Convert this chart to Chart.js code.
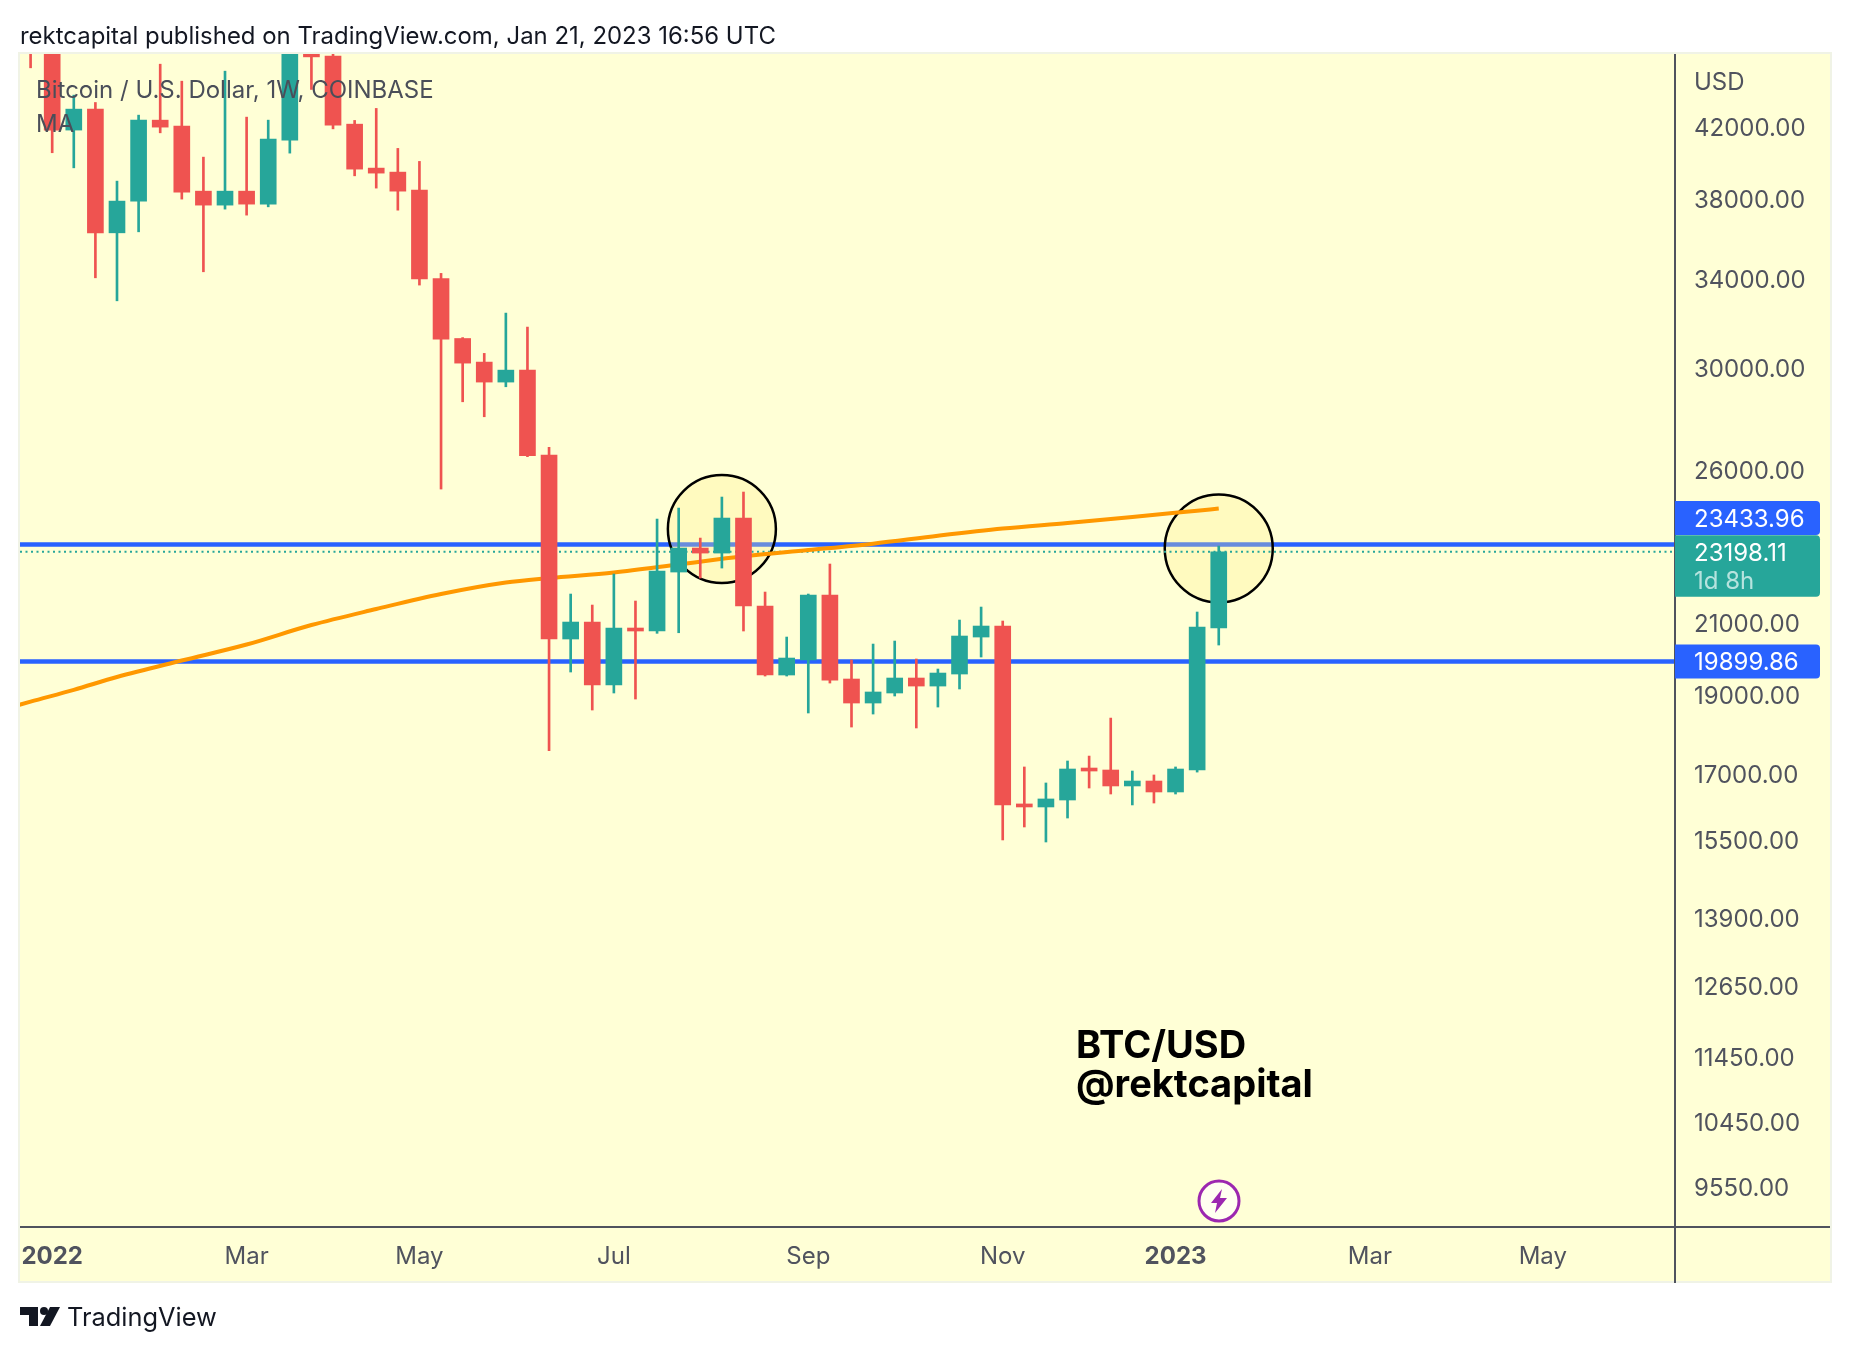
<!DOCTYPE html>
<html>
<head>
<meta charset="utf-8">
<title>BTC/USD</title>
<script src="https://cdn.jsdelivr.net/npm/chart.js@4"></script>
<style>
    html, body { margin: 0; padding: 0; background: #fff; }
    body { width: 1850px; height: 1352px; position: relative; overflow: hidden; font-family: Inter, sans-serif; }
    canvas { position: absolute; left: 0; top: 0; }
    .txt { position: absolute; white-space: nowrap; line-height: 1; }
    #published { left: 20px; top: 24px; font-size: 23.95px; color: #131722; }
    #legend1 { left: 36px; top: 78px; font-size: 24px; color: #4a4e59; }
    #legend2 { left: 36px; top: 112px; font-size: 24px; color: #4a4e59; }
    #note1 { left: 1076px; top: 1025px; font-size: 38px; font-weight: 700; color: #000; }
    #note2 { left: 1076px; top: 1064px; font-size: 38px; font-weight: 700; color: #000; }
    #brand { left: 67px; top: 1304px; font-size: 25.4px; color: #131722; }
    #logo { position: absolute; left: 20px; top: 1307px; }
    #bolt { position: absolute; left: 1197px; top: 1179px; }
</style>
</head>
<body>
<canvas id="chart" width="1850" height="1352"></canvas>
<div class="txt" id="published">rektcapital published on TradingView.com, Jan 21, 2023 16:56 UTC</div>
<div class="txt" id="legend1">Bitcoin / U.S. Dollar, 1W, COINBASE</div>
<div class="txt" id="legend2">MA</div>
<div class="txt" id="note1">BTC/USD</div>
<div class="txt" id="note2">@rektcapital</div>
<svg id="logo" width="40" height="19" viewBox="0 0 40 19">
    <polygon points="0,0 18,0 18,19 9,19 9,8 0,8" fill="#131722"/>
    <circle cx="24" cy="4" r="4" fill="#131722"/>
    <polygon points="30,0 40,0 30,19 20,19" fill="#131722"/>
</svg>
<div class="txt" id="brand">TradingView</div>
<svg id="bolt" width="44" height="44" viewBox="0 0 44 44">
    <circle cx="22" cy="22" r="20" fill="#fffff0" stroke="#9c27b0" stroke-width="3"/>
    <polygon points="25,10 14,24 20,24 18,34 30,19 23,19" fill="#9c27b0"/>
</svg>
<script>
// weekly candles (first one starts late Dec 2021)
const opens = [50700, 47300, 41835, 43079, 36237, 37880, 42420, 42067, 38411, 37668, 38411, 37720, 41253, 46830, 46389, 42183, 39669, 39447, 38468, 33990, 31260, 30246, 29412, 29908, 26558, 20536, 21029, 19257, 20854, 20767, 22552, 23321, 23158, 24320, 21505, 19528, 19942, 21838, 19419, 18778, 19043, 19446, 19229, 19555, 20593, 20912, 16307, 16238, 16397, 17123, 17099, 16722, 16838, 16582, 17099, 20854];
const closes = [47300, 41835, 43079, 36237, 37880, 42420, 42008, 38358, 37668, 38411, 37720, 41309, 46830, 46343, 42124, 39612, 39392, 38411, 33980, 31235, 30202, 29412, 29908, 26534, 20536, 21029, 19257, 20854, 20767, 22584, 23321, 23158, 24320, 21505, 19528, 19997, 21838, 19391, 18778, 19070, 19446, 19229, 19582, 20622, 20912, 16284, 16238, 16421, 17123, 17075, 16722, 16838, 16582, 17123, 20883, 23198.11];
const highs = [52000, 47600, 43930, 43480, 38953, 42718, 45872, 44795, 40282, 45427, 42599, 42420, 47600, 48200, 46600, 42403, 43121, 40777, 40042, 34239, 31300, 30616, 32390, 31763, 26847, 21869, 21535, 22489, 21656, 24286, 24662, 23649, 25045, 25221, 21930, 20593, 21869, 22806, 19942, 20392, 20478, 19970, 19692, 21088, 21475, 21059, 17172, 16792, 17316, 17436, 18387, 17075, 16981, 17172, 21326, 23386];
const lows = [45640, 40530, 39684, 34028, 32951, 36288, 41675, 37986, 34316, 37458, 37145, 37578, 40509, 44280, 41906, 39243, 38575, 37403, 33684, 25326, 28613, 28020, 29220, 26500, 17566, 19610, 18595, 19043, 18883, 20700, 20717, 22363, 22678, 20767, 19500, 19500, 18518, 19310, 18158, 18491, 18963, 18134, 18673, 19150, 20025, 15506, 15790, 15462, 15989, 16674, 16535, 16284, 16328, 16535, 17050, 20364];

// moving average, sampled along the orange line
const maWeeks = [-1, 0, 2, 4, 7, 10, 13, 16, 19, 22, 24, 27, 30, 33, 36, 39, 42, 45, 48, 51, 54, 55];
const maValues = [18654, 18814, 19127, 19473, 19927, 20378, 20941, 21415, 21869, 22223, 22363, 22539, 22792, 23052, 23255, 23465, 23726, 23965, 24154, 24358, 24572, 24644];

const levelHigh = 23433.96;
const levelLow = 19899.86;
const lastPrice = 23198.11;
const countdown = '1d 8h';

const circleWeeks = [32, 55];
const circlePrices = [23949, 23305];

const priceTicks = [42000, 38000, 34000, 30000, 26000, 21000, 19000, 17000, 15500, 13900, 12650, 11450, 10450, 9550];
const timeTickWeeks = [1, 10, 18, 27, 36, 45, 53, 62, 70];
const timeTickLabels = ['2022', 'Mar', 'May', 'Jul', 'Sep', 'Nov', '2023', 'Mar', 'May'];

const UP = '#26a69a';
const DOWN = '#ef5350';
const BLUE = '#2962ff';
const AXIS = '#50535e';
const xMin = -0.49;
const xMax = 76.12;

const candleColors = opens.map((o, i) => closes[i] >= o ? UP : DOWN);

function hLine(price) {
    return [{ x: xMin, y: price }, { x: xMax, y: price }];
}

const panelPlugin = {
    id: 'panel',
    beforeDraw(chart) {
        const { ctx } = chart;
        const a = chart.chartArea;
        const right = chart.scales.y.right;
        const bottom = chart.scales.x.bottom;
        ctx.save();
        ctx.fillStyle = '#ffffd6';
        ctx.fillRect(a.left, a.top, right - a.left, bottom - a.top);
        ctx.strokeStyle = '#f0f3e6';
        ctx.lineWidth = 2;
        ctx.strokeRect(a.left - 1, a.top - 1, right - a.left + 2, bottom - a.top + 2);
        ctx.restore();
    },
    afterDraw(chart) {
        const { ctx } = chart;
        const a = chart.chartArea;
        const yScale = chart.scales.y;
        const right = yScale.right;
        const bottom = chart.scales.x.bottom;

        ctx.save();
        ctx.strokeStyle = AXIS;
        ctx.lineWidth = 2;
        ctx.beginPath();
        ctx.moveTo(a.left, a.bottom);
        ctx.lineTo(right, a.bottom);
        ctx.moveTo(a.right, a.top);
        ctx.lineTo(a.right, bottom + 2);
        ctx.stroke();

        // price tags on the axis
        const boxX = a.right;
        const boxW = 145;
        const tag = (top, h, color) => {
            ctx.fillStyle = color;
            ctx.beginPath();
            ctx.roundRect(boxX, top, boxW, h, [0, 4, 4, 0]);
            ctx.fill();
        };
        const yHigh = yScale.getPixelForValue(levelHigh);
        const yLow = yScale.getPixelForValue(levelLow);
        const yLast = yScale.getPixelForValue(lastPrice);
        tag(yHigh - 43.5, 34, BLUE);
        tag(yLast - 16.5, 61.5, UP);
        tag(yLow - 17, 34, BLUE);

        ctx.font = '24px Inter, sans-serif';
        ctx.textAlign = 'left';
        ctx.textBaseline = 'middle';
        ctx.fillStyle = '#ffffff';
        ctx.fillText(levelHigh.toFixed(2), a.right + 19, yHigh - 25);
        ctx.fillText(lastPrice.toFixed(2), a.right + 19, yLast + 1.5);
        ctx.fillText(levelLow.toFixed(2), a.right + 19, yLow + 1.5);
        ctx.fillStyle = '#b6e3de';
        ctx.fillText(countdown, a.right + 19, yLast + 30);
        ctx.fillStyle = AXIS;
        ctx.fillText('USD', a.right + 19, 82.5);
        ctx.restore();
    }
};

new Chart(document.getElementById('chart'), {
    type: 'bar',
    data: {
        datasets: [
            {
                label: 'body',
                data: opens.map((o, i) => ({ x: i, y: [o, closes[i]] })),
                backgroundColor: candleColors,
                barThickness: 16,
                minBarLength: 3,
                grouped: false,
                order: 1
            },
            {
                label: 'wick',
                data: lows.map((l, i) => ({ x: i, y: [l, highs[i]] })),
                backgroundColor: candleColors,
                barThickness: 2,
                grouped: false,
                order: 2
            },
            {
                type: 'line',
                label: 'MA',
                data: maWeeks.map((w, i) => ({ x: w, y: maValues[i] })),
                borderColor: '#ff9800',
                borderWidth: 4,
                pointRadius: 0,
                cubicInterpolationMode: 'monotone',
                order: 3
            },
            {
                type: 'line',
                label: 'last',
                data: hLine(lastPrice),
                borderColor: UP,
                borderWidth: 2,
                borderDash: [2, 3.5],
                pointRadius: 0,
                order: 4
            },
            {
                type: 'scatter',
                label: 'circles',
                data: circleWeeks.map((w, i) => ({ x: w, y: circlePrices[i] })),
                pointRadius: 54,
                pointBackgroundColor: 'rgba(255, 238, 140, 0.3)',
                pointBorderColor: '#000000',
                pointBorderWidth: 2.5,
                order: 5
            },
            {
                type: 'line',
                label: 'high level',
                data: hLine(levelHigh),
                borderColor: BLUE,
                borderWidth: 4.5,
                pointRadius: 0,
                order: 6
            },
            {
                type: 'line',
                label: 'low level',
                data: hLine(levelLow),
                borderColor: BLUE,
                borderWidth: 4.5,
                pointRadius: 0,
                order: 7
            }
        ]
    },
    options: {
        responsive: false,
        animation: false,
        devicePixelRatio: 1,
        events: [],
        layout: { autoPadding: false, padding: { left: 20, top: 54, right: 20, bottom: 71 } },
        plugins: {
            legend: { display: false },
            title: { display: false },
            tooltip: { enabled: false }
        },
        scales: {
            x: {
                type: 'linear',
                min: xMin,
                max: xMax,
                offset: false,
                grid: { display: false, drawTicks: false },
                border: { display: false },
                afterBuildTicks(scale) {
                    scale.ticks = timeTickWeeks.map(w => ({ value: w }));
                },
                afterFit(scale) {
                    scale.height = 54;
                },
                ticks: {
                    autoSkip: false,
                    maxRotation: 0,
                    padding: 15,
                    color: AXIS,
                    font: ctx => ({
                        family: 'Inter, sans-serif',
                        size: 24,
                        weight: /^20/.test(timeTickLabels[ctx.index]) ? '700' : '400'
                    }),
                    callback: (value, i) => timeTickLabels[i]
                }
            },
            y: {
                type: 'logarithmic',
                position: 'right',
                min: 9026,
                max: 46530,
                grid: { display: false, drawTicks: false },
                border: { display: false },
                afterBuildTicks(scale) {
                    scale.ticks = priceTicks.map(v => ({ value: v }));
                },
                afterFit(scale) {
                    scale.width = 155;
                },
                ticks: {
                    autoSkip: false,
                    crossAlign: 'near',
                    padding: 19,
                    labelOffset: 2,
                    color: AXIS,
                    font: { family: 'Inter, sans-serif', size: 24 },
                    callback: value => Number(value).toFixed(2)
                }
            }
        }
    },
    plugins: [panelPlugin]
});
</script>
</body>
</html>
